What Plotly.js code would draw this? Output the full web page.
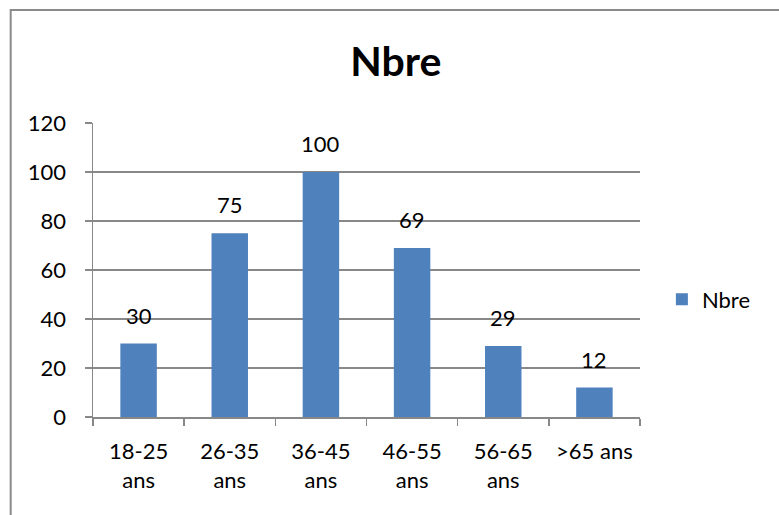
<!DOCTYPE html>
<html>
<head>
<meta charset="utf-8">
<script src="https://cdn.plot.ly/plotly-3.0.1.min.js"></script>
<style>
  html, body { margin: 0; padding: 0; background: #ffffff; }
  #chart { width: 779px; height: 515px; }
</style>
</head>
<body>
<div id="chart"></div>
<script>
// Data
const categories = ["18-25<br>ans", "26-35<br>ans", "36-45<br>ans", "46-55<br>ans", "56-65<br>ans", ">65 ans"];
const values = [30, 75, 100, 69, 29, 12];
const seriesName = "Nbre";
const chartTitle = "Nbre";

const FONT = "Lato, 'Open Sans', sans-serif";
const GRAY = "#888888";

const trace = {
  type: "bar",
  x: categories,
  y: values,
  name: seriesName,
  marker: { color: "#4F81BD" },
  showlegend: true,
  hoverinfo: "x+y"
};

const annotations = categories.map((c, i) => ({
  x: c,
  y: values[i],
  xref: "x",
  yref: "y",
  text: String(values[i]),
  showarrow: false,
  yanchor: "bottom",
  yshift: 13,
  font: { family: FONT, size: 22, color: "#000000" }
}));

const layout = {
  width: 779,
  height: 515,
  margin: { l: 93, r: 139, t: 123, b: 98 },
  paper_bgcolor: "#ffffff",
  plot_bgcolor: "#ffffff",
  title: {
    text: "<b>" + chartTitle + "</b>",
    font: { family: FONT, size: 41, color: "#000000" },
    x: 0.508,
    xanchor: "center",
    y: 0.88,
    yanchor: "middle"
  },
  bargap: 0.6,
  xaxis: {
    type: "category",
    showline: true,
    linecolor: GRAY,
    linewidth: 1.5,
    ticks: "outside",
    tickson: "boundaries",
    ticklen: 7,
    tickcolor: GRAY,
    tickwidth: 1.5,
    showgrid: false,
    ticklabelstandoff: 14,
    tickfont: { family: FONT, size: 22, color: "#000000" },
    fixedrange: true
  },
  yaxis: {
    range: [0, 120],
    dtick: 20,
    tick0: 0,
    showline: true,
    linecolor: GRAY,
    linewidth: 1.5,
    ticks: "outside",
    ticklen: 7,
    tickcolor: GRAY,
    tickwidth: 1.5,
    showgrid: true,
    gridcolor: GRAY,
    gridwidth: 1.5,
    zeroline: false,
    ticklabelstandoff: 14,
    tickfont: { family: FONT, size: 22, color: "#000000" },
    fixedrange: true
  },
  legend: {
    x: 1.04,
    y: 0.4,
    xanchor: "left",
    yanchor: "middle",
    itemwidth: 30,
    font: { family: FONT, size: 22, color: "#000000" },
    bgcolor: "rgba(0,0,0,0)"
  },
  annotations: annotations,
  shapes: [{
    type: "rect",
    xref: "paper",
    yref: "paper",
    x0: -0.1505,
    x1: 1.3,
    y0: -0.4,
    y1: 1.384,
    line: { color: "#8a8a8a", width: 2 },
    fillcolor: "rgba(0,0,0,0)",
    layer: "below"
  }]
};

Plotly.newPlot("chart", [trace], layout, { displayModeBar: false, staticPlot: true });
</script>
</body>
</html>
